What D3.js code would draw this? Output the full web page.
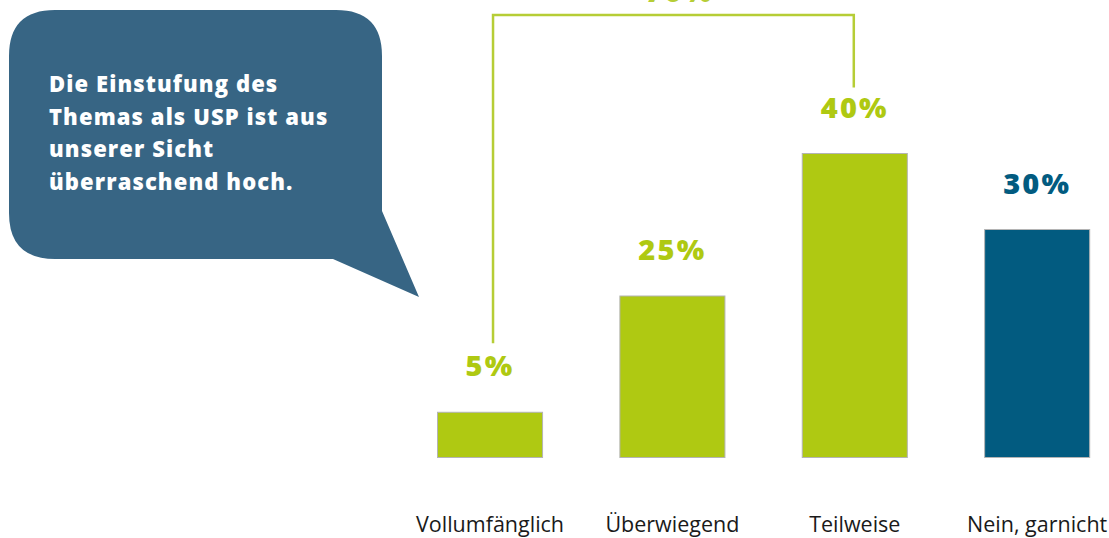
<!DOCTYPE html>
<html>
<head>
<meta charset="utf-8">
<script src="https://cdn.jsdelivr.net/npm/d3@7"></script>
<style>
  html, body { margin: 0; padding: 0; background: #ffffff; }
  svg { display: block; }
</style>
</head>
<body>
<svg id="chart" width="1109" height="538"></svg>
<script>
// ---- data ----
const categories = ["Vollumfänglich", "Überwiegend", "Teilweise", "Nein, garnicht"];
const values = [5.95, 21.25, 40, 30];          // bar heights as drawn
const valueLabels = ["5%", "25%", "40%", "30%"];
const bracketLabel = "70%";
const bubbleLines = ["Die Einstufung des", "Themas als USP ist aus", "unserer Sicht", "überraschend hoch."];

// ---- style ----
const green = "#afc912";
const blue = "#025b80";
const bracketGreen = "#b6cd36";
const bubbleColor = "#376584";

const svg = d3.select("#chart");

const x = d3.scaleBand()
  .domain(categories)
  .range([437.5, 1089.7])
  .paddingInner(0.424)
  .paddingOuter(0);

const y = d3.scaleLinear()
  .domain([0, 40])
  .range([457.5, 153.5]);

const colorOf = (d, i) => i === 3 ? blue : green;

// bars
svg.append("g").selectAll("rect")
  .data(values)
  .join("rect")
  .attr("x", (d, i) => x(categories[i]))
  .attr("y", d => y(d))
  .attr("width", x.bandwidth())
  .attr("height", d => y(0) - y(d))
  .attr("fill", colorOf)
  .attr("stroke", "#b4b4b4")
  .attr("stroke-width", 1);

// value labels
const heavyFont = "'Open Sans', sans-serif";
svg.append("g").selectAll("text")
  .data(values)
  .join("text")
  .attr("x", (d, i) => x(categories[i]) + x.bandwidth() / 2)
  .attr("y", d => y(d) - 36)
  .attr("text-anchor", "middle")
  .attr("font-family", heavyFont)
  .attr("font-weight", 800)
  .attr("font-size", 29)
  .attr("letter-spacing", 2.2)
  .attr("fill", colorOf)
  .text((d, i) => valueLabels[i]);

// bracket connecting first three bars
const bx0 = x(categories[0]) + x.bandwidth() / 2 + 3;
const bx1 = x(categories[2]) + x.bandwidth() / 2 - 1;
const by0 = y(values[0]) - 36 - 33;
const by1 = y(values[2]) - 36 - 30;
const bracketTop = 15;
svg.append("path")
  .attr("d", d3.line()([[bx0, by0], [bx0, bracketTop], [bx1, bracketTop], [bx1, by1]]))
  .attr("fill", "none")
  .attr("stroke", bracketGreen)
  .attr("stroke-width", 2.5);

svg.append("text")
  .attr("x", (bx0 + bx1) / 2 + 6)
  .attr("y", 1.5)
  .attr("text-anchor", "middle")
  .attr("font-family", heavyFont)
  .attr("font-weight", 800)
  .attr("font-size", 29)
  .attr("letter-spacing", 2.2)
  .attr("fill", bracketGreen)
  .text(bracketLabel);

// category labels
svg.append("g").selectAll("text")
  .data(categories)
  .join("text")
  .attr("x", d => x(d) + x.bandwidth() / 2)
  .attr("y", 532)
  .attr("text-anchor", "middle")
  .attr("font-family", "'Open Sans', sans-serif")
  .attr("font-size", 21.5)
  .attr("fill", "#1a1a1a")
  .text(d => d);

// speech bubble
const L = 9, T = 10, R = 382, B = 259, r = 46;
const bubblePath = [
  `M${L + r},${T}`,
  `L${R - r},${T}`,
  `Q${R},${T} ${R},${T + r}`,
  `L${R},211`,
  `L419,297`,
  `L333,${B}`,
  `L${L + r},${B}`,
  `Q${L},${B} ${L},${B - r}`,
  `L${L},${T + r}`,
  `Q${L},${T} ${L + r},${T}`,
  "Z"
].join(" ");
svg.append("path")
  .attr("d", bubblePath)
  .attr("fill", bubbleColor);

svg.append("g").selectAll("text")
  .data(bubbleLines)
  .join("text")
  .attr("x", 49)
  .attr("y", (d, i) => 92 + i * 32.5)
  .attr("font-family", heavyFont)
  .attr("font-weight", 800)
  .attr("font-size", 22)
  .attr("letter-spacing", 1.1)
  .attr("fill", "#ffffff")
  .text(d => d);
</script>
</body>
</html>
